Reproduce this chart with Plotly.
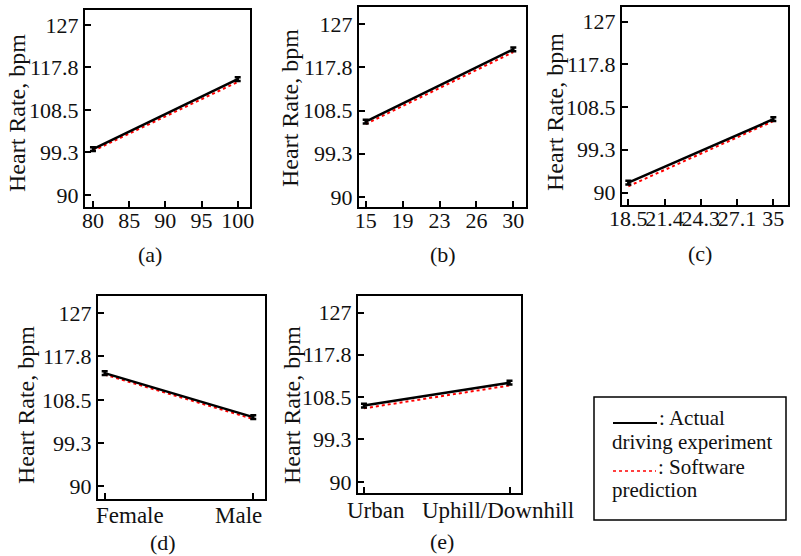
import plotly.graph_objects as go

# ---------------- data ----------------
a_x = [80, 100]
a_actual = [100.0, 115.2]
a_pred = [99.6, 114.6]
a_ticks = [80, 85, 90, 95, 100]
a_ticktext = ["80", "85", "90", "95", "100"]

b_x = [15, 30]
b_actual = [106.1, 121.6]
b_pred = [105.6, 121.0]
b_ticks = [15, 18.75, 22.5, 26.25, 30]
b_ticktext = ["15", "19", "23", "26", "30"]

c_x = [18.5, 35]
c_actual = [92.2, 105.9]
c_pred = [91.4, 105.5]
c_ticks = [18.5, 22.625, 26.75, 30.875, 35]
c_ticktext = ["18.5", "21.4", "24.3", "27.1", "35"]

d_x = ["Female", "Male"]
d_actual = [114.2, 104.8]
d_pred = [113.9, 104.4]

e_x = ["Urban", "Uphill/Downhill"]
e_actual = [106.7, 111.7]
e_pred = [106.1, 111.1]

err = [0.4, 0.4]
y_ticks = [90, 99.3, 108.5, 117.8, 127]
y_ticktext = ["90", "99.3", "108.5", "117.8", "127"]
y_title = "Heart Rate, bpm"
panel_labels = ["(a)", "(b)", "(c)", "(d)", "(e)"]
legend_lines = [": Actual", "driving experiment", ": Software", "prediction"]

# ---------------- layout helpers ----------------
W, H = 801, 556
FONT = "Liberation Serif, Times New Roman, serif"
TICK_SIZE = 22
TXT = "#111"


def px(x):
    return x / W


def py(y):
    return 1 - y / H


# panel boxes in pixels: (x0, x1, y0, y1)
boxes = [
    (85, 250, 10, 207),
    (359, 526, 7, 207),
    (622, 788, 7, 205),
    (98, 265, 296, 499),
    (358, 521, 296, 493),
]
xranges = [
    [78.9, 101.7],
    [14.32, 31.29],
    [17.78, 36.67],
    [-0.045, 1.079],
    [-0.041, 1.079],
]
yranges = [
    [87.39, 130.26],
    [87.86, 130.64],
    [87.34, 130.18],
    [87.31, 130.69],
    [87.6, 130.64],
]
label_pos = [(150, 254), (443, 254), (700, 253), (163, 542), (442, 541)]
title_pos = [(17, 113), (290, 108), (555, 112), (26, 405), (292, 405)]
# categorical tick labels: pixel shift from tick, label centre y
cat_shift = {3: ([25, -15], 515), 4: ([12, -12], 511)}

series = [
    (a_x, a_actual, a_pred, a_ticks, a_ticktext),
    (b_x, b_actual, b_pred, b_ticks, b_ticktext),
    (c_x, c_actual, c_pred, c_ticks, c_ticktext),
    (d_x, d_actual, d_pred, None, None),
    (e_x, e_actual, e_pred, None, None),
]

fig = go.Figure()
layout = dict(
    template="none",
    width=W,
    height=H,
    margin=dict(l=0, r=0, t=0, b=0, autoexpand=False),
    paper_bgcolor="white",
    plot_bgcolor="white",
    showlegend=False,
    font=dict(family=FONT, color=TXT, size=TICK_SIZE),
    annotations=[],
    shapes=[],
)

for i, (xs, ya, yp, tv, tt) in enumerate(series):
    n = "" if i == 0 else str(i + 1)
    xa, ya_name = "x" + n, "y" + n
    fig.add_trace(go.Scatter(
        x=xs, y=yp, xaxis=xa, yaxis=ya_name, mode="lines",
        line=dict(color="red", width=2, dash="dot"),
    ))
    fig.add_trace(go.Scatter(
        x=xs, y=ya, xaxis=xa, yaxis=ya_name, mode="lines",
        line=dict(color="black", width=2.5),
        error_y=dict(type="data", array=err, color="black", thickness=2.5, width=3),
    ))
    x0, x1, y0, y1 = boxes[i]
    xaxis = dict(
        domain=[px(x0), px(x1)], anchor=ya_name, range=xranges[i],
        automargin=False, tickangle=0, ticklabelstandoff=-7,
        showline=True, linecolor="black", linewidth=2, mirror=True,
        ticks="inside", ticklen=6, tickwidth=1.5, tickcolor="black",
        showgrid=False, zeroline=False,
        tickfont=dict(family=FONT, size=TICK_SIZE, color=TXT),
    )
    if tv is not None:
        xaxis.update(tickmode="array", tickvals=tv, ticktext=tt)
    else:
        xaxis.update(type="category", showticklabels=False)
        shifts, cy = cat_shift[i]
        for cat, sh in zip(xs, shifts):
            layout["annotations"].append(dict(
                text=cat, x=cat, xref=xa, y=py(cy), yref="paper",
                xshift=sh, showarrow=False, xanchor="center", yanchor="middle",
                font=dict(family=FONT, size=23, color=TXT),
            ))
    yaxis = dict(
        domain=[py(y1), py(y0)], anchor=xa, range=yranges[i],
        automargin=False,
        showline=True, linecolor="black", linewidth=2, mirror=True,
        ticks="inside", ticklen=6, tickwidth=1.5, tickcolor="black",
        showgrid=False, zeroline=False,
        tickmode="array", tickvals=y_ticks, ticktext=y_ticktext,
        tickfont=dict(family=FONT, size=TICK_SIZE, color=TXT),
    )
    layout["xaxis" + n] = xaxis
    layout["yaxis" + n] = yaxis
    lx, ly = label_pos[i]
    layout["annotations"].append(dict(
        text=panel_labels[i], x=px(lx), y=py(ly), xref="paper", yref="paper",
        showarrow=False, xanchor="center", yanchor="middle",
        font=dict(family=FONT, size=22, color=TXT),
    ))
    tx, ty = title_pos[i]
    layout["annotations"].append(dict(
        text=y_title, x=px(tx), y=py(ty), xref="paper", yref="paper",
        showarrow=False, xanchor="center", yanchor="middle", textangle=-90,
        font=dict(family=FONT, size=24, color=TXT),
    ))

# legend box
layout["shapes"].append(dict(
    type="rect", xref="paper", yref="paper",
    x0=px(594), x1=px(786), y0=py(520), y1=py(397),
    line=dict(color="black", width=1.5), fillcolor="white",
))
layout["shapes"].append(dict(
    type="line", xref="paper", yref="paper",
    x0=px(613), x1=px(657), y0=py(423), y1=py(423),
    line=dict(color="black", width=2),
))
layout["shapes"].append(dict(
    type="line", xref="paper", yref="paper",
    x0=px(613), x1=px(656), y0=py(471), y1=py(471),
    line=dict(color="red", width=1.5, dash="dot"),
))
leg_pos = [(657, 418), (610, 442), (656, 467), (610, 490)]
for txt, (lx, ly) in zip(legend_lines, leg_pos):
    layout["annotations"].append(dict(
        text=txt, x=px(lx), y=py(ly), xref="paper", yref="paper",
        showarrow=False, xanchor="left", yanchor="middle",
        font=dict(family=FONT, size=21, color=TXT),
    ))

fig.update_layout(**layout)
fig.write_html(
    "out.html",
    config={"displayModeBar": False},
    post_script="document.body.style.margin='0';document.body.style.overflow='hidden';",
)
